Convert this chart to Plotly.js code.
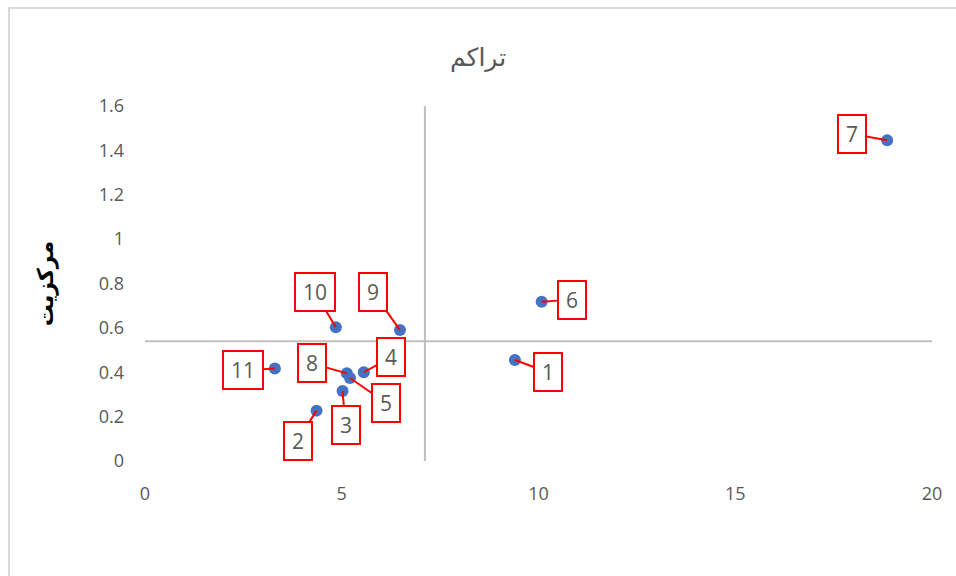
<!DOCTYPE html>
<html>
<head>
<meta charset="utf-8">
<script src="https://cdn.plot.ly/plotly-3.0.1.min.js"></script>
<style>
html,body{margin:0;padding:0;background:#fff;}
#wrap{position:relative;width:956px;height:576px;overflow:hidden;}
#frame{position:absolute;left:8px;top:7px;width:1000px;height:700px;border-left:2px solid #d9d9d9;border-top:2px solid #d9d9d9;pointer-events:none;z-index:5;}
#chart{position:absolute;left:0;top:0;width:956px;height:576px;}
</style>
</head>
<body>
<div id="wrap"><div id="chart"></div><div id="frame"></div></div>
<script>
// Data
var labels = ["1","2","3","4","5","6","7","8","9","10","11"];
var xValues = [9.40, 4.36, 5.02, 5.56, 5.21, 10.08, 18.86, 5.13, 6.48, 4.85, 3.30];
var yValues = [0.455, 0.227, 0.315, 0.400, 0.374, 0.718, 1.446, 0.395, 0.590, 0.603, 0.417];
// label callout offsets (pixels) relative to each point
var labelDX = [33, -19, 3, 27, 36, 30, -35, -35, -27, -21, -32];
var labelDY = [12, 30, 34, -15, 25, -2, -6, -10, -38, -35, 2];
var xTicks = [0, 5, 10, 15, 20];
var yTicks = [0, 0.2, 0.4, 0.6, 0.8, 1, 1.2, 1.4, 1.6];

function mean(a){var s=0;for(var i=0;i<a.length;i++)s+=a[i];return s/a.length;}
var xMean = mean(xValues), yMean = mean(yValues);

var fontFam = "Open Sans, DejaVu Sans, sans-serif";

var trace = {
  x: xValues, y: yValues, mode: 'markers', type: 'scatter',
  marker: {color: '#4472C4', size: 12},
  hoverinfo: 'skip', showlegend: false
};

var annotations = labels.map(function(t,i){
  return {
    x: xValues[i], y: yValues[i], xref: 'x', yref: 'y',
    text: t, showarrow: true, arrowhead: 0, arrowwidth: 2, arrowcolor: '#FF0000',
    ax: labelDX[i], ay: labelDY[i], standoff: 0, startstandoff: 0,
    bordercolor: '#FF0000', borderwidth: 2, borderpad: 1, bgcolor: '#FFFFFF',
    width: t.length > 1 ? 36 : 24, height: 34,
    font: {family: fontFam, size: 21, color: '#595959'}
  };
});

var layout = {
  width: 956, height: 576,
  margin: {l: 145, r: 24, t: 106, b: 115},
  paper_bgcolor: '#FFFFFF', plot_bgcolor: '#FFFFFF',
  title: {text: 'تراکم', x: 0.5, xanchor: 'center', y: 0.9, yref: 'container', yanchor: 'middle',
          font: {family: fontFam, size: 25, color: '#595959'}},
  xaxis: {range: [0, 20], tickvals: xTicks, ticktext: xTicks.map(String), showgrid: false, zeroline: false,
          showline: false, ticks: '', ticklabelstandoff: 20,
          tickfont: {family: fontFam, size: 18, color: '#595959'}},
  yaxis: {range: [0, 1.6], tickvals: yTicks, ticktext: yTicks.map(String), showgrid: false, zeroline: false,
          showline: false, ticks: '', ticklabelstandoff: 20,
          tickfont: {family: fontFam, size: 18, color: '#595959'},
          title: {text: '<b>مرکزیت</b>', standoff: 38, font: {family: fontFam, size: 22, color: '#000000'}}},
  shapes: [
    {type: 'line', xref: 'x', yref: 'y', x0: xMean, x1: xMean, y0: 0, y1: 1.6, line: {color: '#BFBFBF', width: 2}},
    {type: 'line', xref: 'x', yref: 'y', x0: 0, x1: 20, y0: yMean, y1: yMean, line: {color: '#BFBFBF', width: 2}}
  ],
  annotations: annotations
};

Plotly.newPlot('chart', [trace], layout, {displayModeBar: false, staticPlot: true});
</script>
</body>
</html>
